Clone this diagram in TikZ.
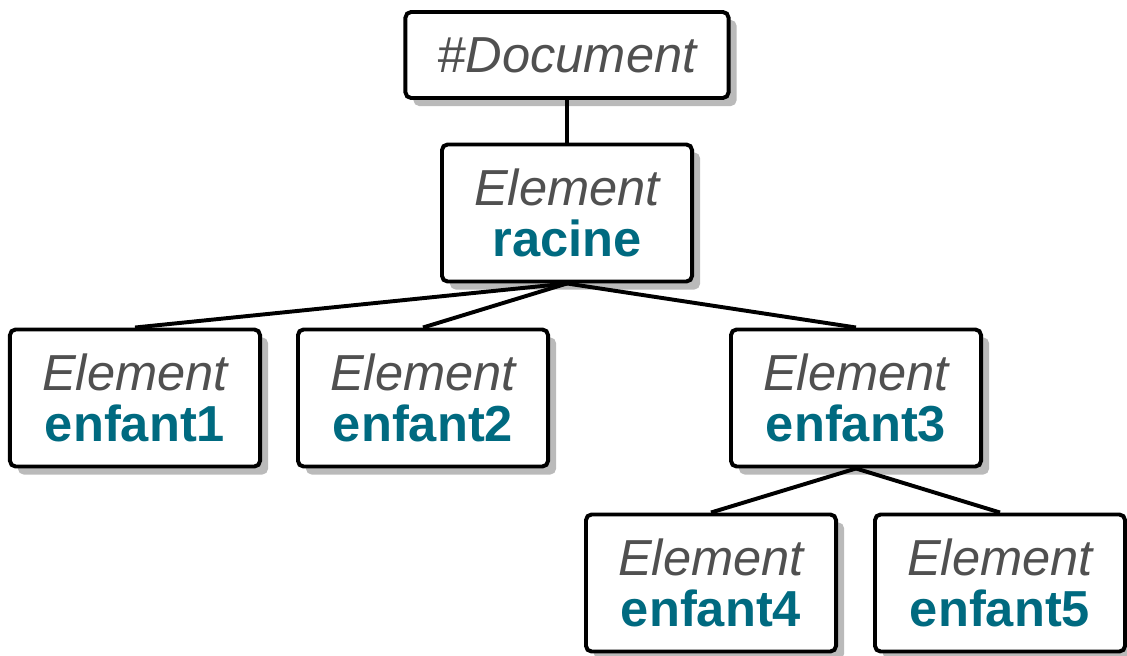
\documentclass[tikz,border=0pt]{standalone}
\usepackage{fontspec}
\setmainfont{Liberation Sans}
\definecolor{typegray}{RGB}{80, 80, 80}
\definecolor{nameteal}{RGB}{0, 106, 128}
\usetikzlibrary{shadows}

\begin{document}
\begin{tikzpicture}[
  x=0.025cm, y=-0.025cm,
  elem/.style={draw=black, fill=white, line width=2.8pt, rounded corners=4pt, minimum width=6.25cm, minimum height=3.425cm, align=center, inner sep=2pt, font=\fontsize{36}{36}\selectfont, drop shadow={shadow xshift=0.2cm, shadow yshift=-0.2cm, fill=black!45, opacity=0.6}},
  link/.style={line width=2.8pt, black},
]
  \useasboundingbox (0,0) rectangle (1127,656);

  % Nodes
  \node[elem, minimum width=8.075cm, minimum height=2.15cm] (doc) at (567, 55) {\textcolor{typegray}{\itshape \#Document}};
  \node[elem] (racine) at (567, 213) {\textcolor{typegray}{\itshape Element}\\\textcolor{nameteal}{\bfseries racine}};
  \node[elem] (e1) at (135, 398) {\textcolor{typegray}{\itshape Element}\\\textcolor{nameteal}{\bfseries enfant1}};
  \node[elem] (e2) at (423, 398) {\textcolor{typegray}{\itshape Element}\\\textcolor{nameteal}{\bfseries enfant2}};
  \node[elem] (e3) at (856, 398) {\textcolor{typegray}{\itshape Element}\\\textcolor{nameteal}{\bfseries enfant3}};
  \node[elem] (e4) at (711, 583) {\textcolor{typegray}{\itshape Element}\\\textcolor{nameteal}{\bfseries enfant4}};
  \node[elem] (e5) at (1000, 583) {\textcolor{typegray}{\itshape Element}\\\textcolor{nameteal}{\bfseries enfant5}};

  % Links
  \draw[link] (doc.south) -- (racine.north);
  \draw[link] (racine.south) -- (e1.north);
  \draw[link] (racine.south) -- (e2.north);
  \draw[link] (racine.south) -- (e3.north);
  \draw[link] (e3.south) -- (e4.north);
  \draw[link] (e3.south) -- (e5.north);
\end{tikzpicture}
\end{document}
